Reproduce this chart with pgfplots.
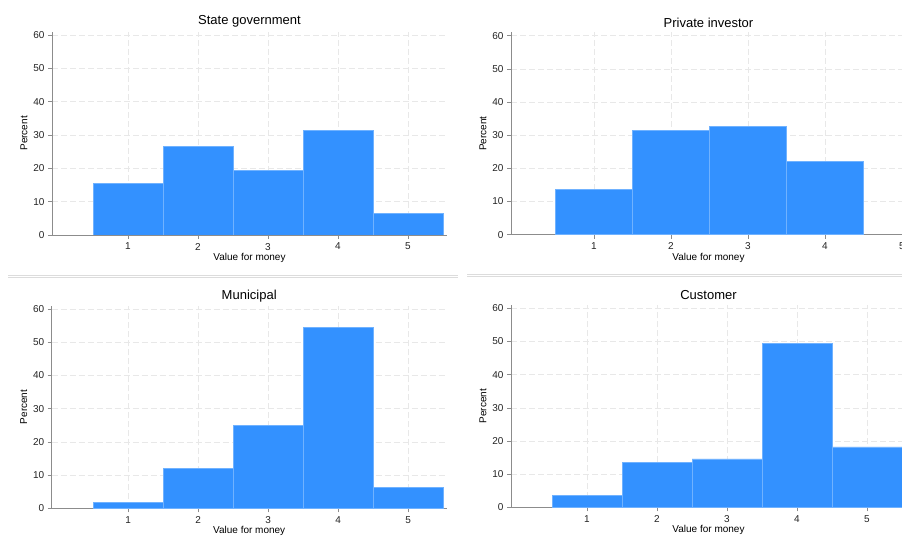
\documentclass[border=0pt]{standalone}
\usepackage{fontspec}
\setmainfont{Liberation Sans}
\usepackage{pgfplots}
\pgfplotsset{compat=1.18}
\definecolor{barblue}{RGB}{51,145,255}
\definecolor{barline}{RGB}{112,178,255}
\definecolor{gridgray}{RGB}{232,232,232}
\definecolor{axgray}{RGB}{140,140,140}
\definecolor{txt}{RGB}{35,35,35}
\definecolor{sepgray}{RGB}{220,220,220}
\pgfplotsset{
  panel/.style={
    scale only axis,
    width=395pt,
    ymin=0, ymax=61,
    axis x line*=bottom, axis y line*=left,
    axis line style={axgray, line width=0.8pt},
    xtick={1,2,3,4,5}, ytick={0,10,20,30,40,50,60},
    xticklabels={1,2,3,4,5}, yticklabels={0,10,20,30,40,50,60},
    tick align=outside,
    major tick length=4pt,
    every tick/.style={axgray, line width=0.6pt},
    tick label style={font=\fontsize{10}{12}\selectfont, text=txt},
    xticklabel style={yshift=-0.5pt},
    grid=major,
    major grid style={gridgray, dash pattern=on 6pt off 3pt, line width=0.6pt},
    xlabel={Value for money}, ylabel={Percent},
    label style={font=\fontsize{9.2}{11}\selectfont, text=txt},
    every axis x label/.style={at={(axis description cs:0.5,0)}, anchor=center, yshift=-23pt},
    every axis y label/.style={at={(axis description cs:-0.071,0.5)}, anchor=center, rotate=90},
    every axis title/.style={font=\fontsize{13}{15}\selectfont, text=black, at={(axis description cs:0.5,1)}, anchor=center, yshift=10pt},
  },
  hbar/.style={ybar, bar width=1, bar shift=0, fill=barblue, draw=barline, line width=0.7pt},
}
\begin{document}
\begin{tikzpicture}
\useasboundingbox (0,0) rectangle (902pt,537pt);
\begin{scope}
\clip (0,0) rectangle (902pt,537pt);
% separators
\draw[sepgray, line width=0.8pt] (8pt,262pt) -- (458pt,262pt);
\draw[sepgray, line width=0.8pt] (8pt,260pt) -- (458pt,260pt);
\draw[sepgray, line width=0.8pt] (467pt,262.5pt) -- (902pt,262.5pt);
\draw[sepgray, line width=0.8pt] (467pt,260.5pt) -- (902pt,260.5pt);

\begin{axis}[panel, at={(52pt,302pt)}, anchor=south west, height=203.3pt,
  xmin=-0.086, xmax=5.557, title={State government}]
\addplot[hbar] coordinates {(1,15.6) (2,26.7) (3,19.3) (4,31.3) (5,6.4)};
\end{axis}

\begin{axis}[panel, at={(511pt,302.3pt)}, anchor=south west, height=202.3pt,
  xmin=-0.078, xmax=5.052, title={Private investor}]
\addplot[hbar] coordinates {(1,13.7) (2,31.5) (3,32.6) (4,22.0)};
\end{axis}

\begin{axis}[panel, at={(51.7pt,28.7pt)}, anchor=south west, height=202.6pt,
  xmin=-0.094, xmax=5.549, title={Municipal}]
\addplot[hbar] coordinates {(1,1.8) (2,11.9) (3,24.9) (4,54.5) (5,6.3)};
\end{axis}

\begin{axis}[panel, at={(511pt,29.7pt)}, anchor=south west, height=202.3pt,
  xmin=-0.086, xmax=5.557, title={Customer}]
\addplot[hbar] coordinates {(1,3.5) (2,13.6) (3,14.6) (4,49.3) (5,18.2)};
\end{axis}
\end{scope}
\end{tikzpicture}
\end{document}
